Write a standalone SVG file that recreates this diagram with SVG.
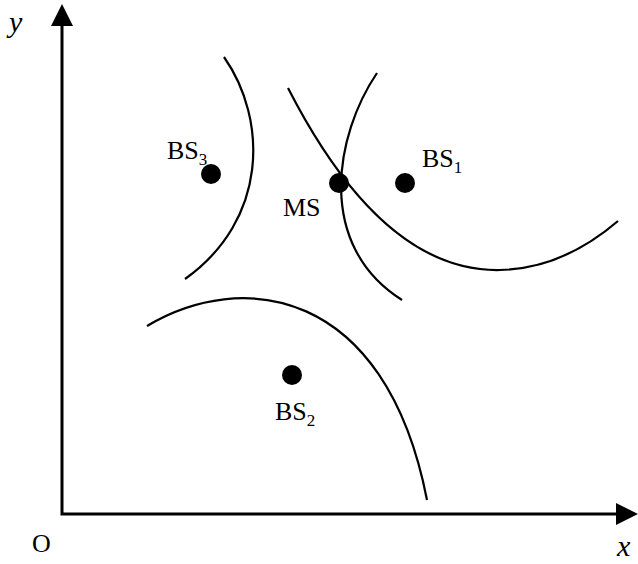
<svg xmlns="http://www.w3.org/2000/svg" width="638" height="564" viewBox="0 0 638 564">
<style>
.ax{stroke:#000;stroke-width:3;fill:none}
.cv{stroke:#000;stroke-width:2.2;fill:none}
.lb{font-family:"Liberation Serif",serif;font-size:26px;fill:#000}
.sb{font-size:17px}
.it{font-family:"Liberation Serif",serif;font-size:30px;font-style:italic;fill:#000}
</style>
<g id="axes">
<polyline class="ax" points="62,24 62,514 620,514"/>
<polygon points="62,4 51,26 73,26" fill="#000"/>
<polygon points="638,514 616,503 616,525" fill="#000"/>
<text class="it" x="9" y="32">y</text>
<text class="it" x="617" y="556">x</text>
<text class="lb" x="32" y="552">O</text>
</g>
<g id="connectors">
<path class="cv" d="M224,57 C268,120 268,220 185,279"/>
<path class="cv" d="M288,88 C330,170 400,272 500,270 C550,269 590,245 618,221"/>
<path class="cv" d="M377,73 C335,135 315,245 402,300"/>
<path class="cv" d="M147,326 C240,270 385,285 427,500"/>
</g>
<g id="BS3"><circle cx="211" cy="174" r="10"/><text class="lb" x="167" y="159">BS<tspan class="sb" dy="6">3</tspan></text></g>
<g id="MS"><circle cx="339" cy="183" r="10"/><text class="lb" x="283" y="216">MS</text></g>
<g id="BS1"><circle cx="405" cy="183" r="10"/><text class="lb" x="422" y="167">BS<tspan class="sb" dy="6">1</tspan></text></g>
<g id="BS2"><circle cx="292" cy="375" r="10"/><text class="lb" x="275" y="420">BS<tspan class="sb" dy="6">2</tspan></text></g>
</svg>
